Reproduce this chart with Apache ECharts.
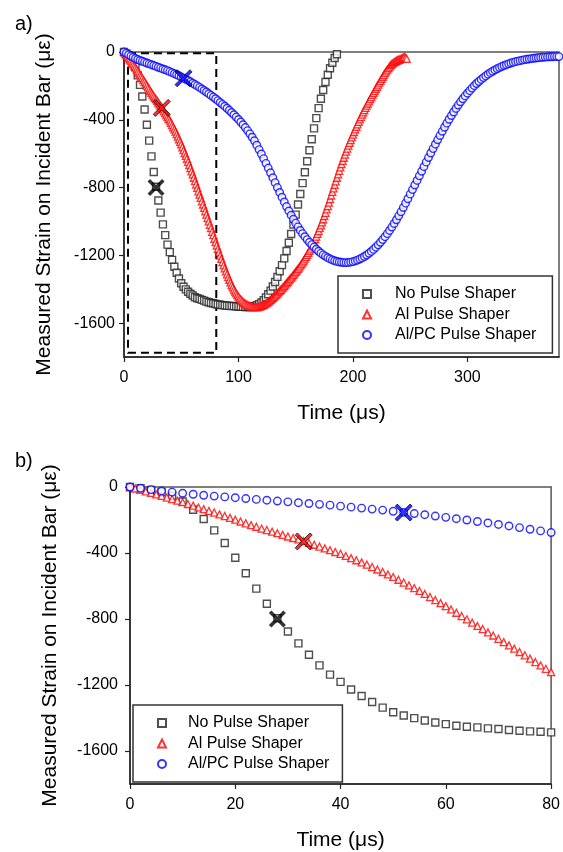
<!DOCTYPE html>
<html>
<head>
<meta charset="utf-8">
<script src="https://cdn.jsdelivr.net/npm/echarts@6/dist/echarts.min.js"></script>
<style>
html,body{margin:0;padding:0;background:#fff;}
#c{width:563px;height:852px;}
</style>
</head>
<body>
<div id="c"></div>
<script>
// ---- data (strain in microstrain, sampled at fixed time steps in µs) ----
const seriesNames = ['No Pulse Shaper', 'Al Pulse Shaper', 'Al/PC Pulse Shaper'];

const blackStep = 2; // µs
const blackValues = [
  0, -8, -18, -32, -54, -88, -138, -194, -263, -339,
  -429, -523, -616, -708, -795, -876, -948, -1017, -1081, -1137,
  -1181, -1227, -1267, -1303, -1337, -1365, -1385, -1401, -1415, -1427,
  -1437, -1447, -1453, -1457, -1463, -1467, -1473, -1477, -1481, -1483,
  -1487, -1490, -1492, -1494, -1496, -1497, -1498, -1499, -1500, -1501,
  -1502, -1503, -1504, -1505, -1505, -1505, -1503, -1500, -1495, -1488,
  -1478, -1465, -1449, -1430, -1408, -1384, -1357, -1327, -1294, -1258,
  -1218, -1174, -1126, -1074, -1018, -960, -900, -838, -774, -710,
  -645, -580, -515, -451, -390, -331, -276, -224, -177, -134,
  -96, -63, -35, -13
];

const redStep = 1; // µs
const redValues = [
  0, -9, -18, -27, -36, -45, -54, -64, -73, -83, -92, -103, -113, -124, -134, -145, -155, -166, -176, -187, -198,
  -209, -220, -231, -241, -252, -261, -271, -280, -290, -300, -309, -318, -328, -339, -350, -361, -372, -383, -394, -405,
  -418, -431, -444, -457, -470, -485, -500, -515, -530, -545, -562, -579, -596, -613, -630, -648, -667, -685, -704, -722,
  -742, -762, -782, -802, -822, -842, -861, -881, -900, -920, -940, -960, -980, -1000, -1020, -1040, -1061, -1081, -1102, -1122,
  -1142, -1162, -1182, -1202, -1221, -1240, -1259, -1277, -1295, -1312, -1329, -1345, -1360, -1375, -1389, -1402, -1414, -1425, -1435, -1444,
  -1453, -1461, -1468, -1475, -1481, -1486, -1490, -1494, -1497, -1500, -1502, -1504, -1505, -1506, -1506, -1506, -1505, -1503, -1501, -1498,
  -1495, -1492, -1488, -1484, -1479, -1474, -1469, -1463, -1457, -1451, -1445, -1438, -1431, -1424, -1417, -1410, -1403, -1395, -1388, -1380,
  -1372, -1364, -1356, -1348, -1340, -1332, -1324, -1315, -1307, -1298, -1289, -1280, -1271, -1261, -1251, -1241, -1231, -1220, -1209, -1197,
  -1185, -1173, -1160, -1147, -1133, -1119, -1104, -1089, -1073, -1057, -1040, -1023, -1005, -987, -968, -949, -929, -909, -889, -868,
  -847, -826, -805, -784, -763, -742, -722, -701, -681, -662, -643, -624, -606, -588, -570, -553, -536, -520, -504, -488,
  -472, -457, -442, -427, -412, -398, -384, -370, -356, -343, -330, -317, -304, -291, -278, -266, -253, -241, -229, -217,
  -205, -193, -181, -170, -158, -147, -136, -125, -114, -104, -95, -86, -78, -71, -65, -60, -56, -52, -49, -46,
  -43, -40, -36, -32, -30, -34, -40
];

const blueStep = 2; // µs
const blueValues = [
  0, -8, -16, -24, -31, -38, -44, -50, -55, -60,
  -65, -70, -75, -80, -85, -90, -95, -100, -105, -110,
  -116, -122, -128, -134, -140, -147, -154, -161, -168, -176,
  -184, -192, -200, -209, -218, -227, -236, -246, -256, -266,
  -276, -287, -298, -309, -320, -332, -344, -357, -370, -384,
  -398, -413, -429, -446, -464, -483, -503, -524, -550, -576,
  -602, -629, -657, -685, -713, -742, -771, -800, -829, -857,
  -885, -912, -938, -963, -987, -1010, -1032, -1053, -1072, -1090,
  -1107, -1123, -1137, -1151, -1164, -1176, -1187, -1197, -1206, -1214,
  -1221, -1227, -1232, -1236, -1239, -1241, -1243, -1243, -1242, -1240,
  -1237, -1233, -1228, -1222, -1215, -1207, -1198, -1188, -1177, -1165,
  -1152, -1138, -1123, -1107, -1090, -1072, -1053, -1033, -1012, -990,
  -967, -943, -918, -892, -866, -839, -812, -785, -758, -731,
  -704, -677, -650, -623, -596, -570, -544, -518, -493, -468,
  -444, -420, -397, -375, -354, -333, -313, -294, -276, -259,
  -243, -228, -213, -199, -186, -174, -162, -151, -141, -131,
  -122, -114, -106, -99, -92, -86, -80, -75, -70, -65,
  -61, -57, -54, -51, -48, -45, -43, -41, -39, -37,
  -35, -34, -32, -31, -30, -29, -28, -28, -27, -27,
  -27
];

// highlighted points (X markers)
const blackMark = [[28, -800]];
const redMark = [[33, -330]];
const blueMark = [[52, -155]];

// dashed zoom window drawn on panel a)
const zoomBox = [[3.5, -8], [80.6, -1775]];

// axis ticks
const yTicks = [0, -400, -800, -1200, -1600];
const xTicksA = [0, 100, 200, 300];
const xTicksB = [0, 20, 40, 60, 80];

// ---- chart ----
const FONT = 'Liberation Sans, Arial, sans-serif';
const toPairs = (vals, step) => vals.map((v, i) => [i * step, v]);
const blackData = toPairs(blackValues, blackStep);
const redData = toPairs(redValues, redStep);
const blueData = toPairs(blueValues, blueStep);

const xPath = 'path://M3,0 L10,7 L17,0 L20,3 L13,10 L20,17 L17,20 L10,13 L3,20 L0,17 L7,10 L0,3 Z';
const xPathThin = 'path://M2.5,0 L10,7.5 L17.5,0 L20,2.5 L12.5,10 L20,17.5 L17.5,20 L10,12.5 L2.5,20 L0,17.5 L7.5,10 L0,2.5 Z';
const plain = v => String(v);

function yAxisCfg(gridIndex, gap, margin) {
  return {
    gridIndex, type: 'value', min: -1800, max: 0,
    name: 'Measured Strain on Incident Bar (με)',
    nameLocation: 'middle', nameGap: gap,
    nameTextStyle: { fontSize: 21, color: '#000', fontFamily: FONT },
    axisLine: { show: true, onZero: false, lineStyle: { color: '#222', width: 1.5 } },
    axisTick: { show: true, length: 5, customValues: yTicks, lineStyle: { color: '#222', width: 1.2 } },
    axisLabel: { customValues: yTicks, formatter: plain, fontSize: 16, color: '#000', fontFamily: FONT, margin: margin },
    splitLine: { show: false }
  };
}
function xAxisCfg(gridIndex, max, ticks) {
  return {
    gridIndex, type: 'value', min: 0, max: max,
    name: 'Time (μs)', nameLocation: 'middle', nameGap: 46,
    nameTextStyle: { fontSize: 21, color: '#000', fontFamily: FONT },
    axisLine: { show: true, onZero: false, lineStyle: { color: '#222', width: 1.5 } },
    axisTick: { show: true, length: 5, customValues: ticks, lineStyle: { color: '#222', width: 1.2 } },
    axisLabel: { customValues: ticks, formatter: plain, fontSize: 16, color: '#000', fontFamily: FONT, margin: 13 },
    splitLine: { show: false }
  };
}

function dataSeries(idx) {
  const common = { xAxisIndex: idx, yAxisIndex: idx, type: 'scatter', animation: false, clip: true, emphasis: { disabled: true } };
  return [
    Object.assign({}, common, {
      name: seriesNames[0], data: blackData, symbol: 'rect', symbolSize: 7, z: 2,
      itemStyle: { color: '#fff', borderColor: '#222', borderWidth: 1.4 }
    }),
    Object.assign({}, common, {
      name: seriesNames[1], data: redData, symbol: 'triangle', symbolSize: 7, z: 3,
      itemStyle: { color: '#fff', borderColor: '#ff0000', borderWidth: 1.3 }
    }),
    Object.assign({}, common, {
      name: seriesNames[2], data: blueData, symbol: 'circle', symbolSize: 7.5, z: 4,
      itemStyle: { color: '#fff', borderColor: '#0000ff', borderWidth: 1.4 }
    }),
    Object.assign({}, common, {
      name: 'markBlack', data: blackMark, symbol: xPath, symbolSize: 17, z: 10,
      itemStyle: { color: '#000' }
    }),
    Object.assign({}, common, {
      name: 'markRed', data: redMark, symbol: xPathThin, symbolSize: 17, z: 10,
      itemStyle: { color: '#ff0000', borderColor: '#000', borderWidth: 0.9 }
    }),
    Object.assign({}, common, {
      name: 'markBlue', data: blueMark, symbol: xPathThin, symbolSize: 17, z: 10,
      itemStyle: { color: '#0000ff', borderColor: '#000', borderWidth: 0.9 }
    })
  ];
}

const sA = dataSeries(0);
sA[0].markArea = {
  silent: true,
  itemStyle: { color: 'rgba(0,0,0,0)', borderColor: '#000', borderWidth: 2, borderType: [8, 5] },
  data: [[{ coord: zoomBox[0] }, { coord: zoomBox[1] }]]
};
const sB = dataSeries(1);

function legendCfg(left, top, textShift, padRight) {
  return {
    show: true, orient: 'vertical', left: left, top: top,
    data: seriesNames, selectedMode: false,
    itemWidth: 8, itemHeight: 8, itemGap: 4.5,
    padding: [10, padRight, 10, 24],
    borderColor: '#333', borderWidth: 1.5, backgroundColor: '#fff',
    textStyle: { fontSize: 16, color: '#000', fontFamily: FONT, padding: [0, 0, 0, textShift] }
  };
}

const option = {
  backgroundColor: '#fff',
  animation: false,
  textStyle: { fontFamily: FONT },
  title: [
    { text: 'a)', left: 10, top: 9, textStyle: { fontSize: 20, fontWeight: 'normal', color: '#000', fontFamily: FONT } },
    { text: 'b)', left: 10, top: 446, textStyle: { fontSize: 20, fontWeight: 'normal', color: '#000', fontFamily: FONT } }
  ],
  grid: [
    { left: 124, top: 52, width: 435, height: 305, show: true, borderColor: '#555', borderWidth: 1.5, backgroundColor: 'rgba(0,0,0,0)' },
    { left: 130, top: 487, width: 427, height: 298, show: true, borderColor: '#555', borderWidth: 1.5, backgroundColor: 'rgba(0,0,0,0)' }
  ],
  xAxis: [xAxisCfg(0, 380, xTicksA), xAxisCfg(1, 80, xTicksB)],
  yAxis: [yAxisCfg(0, 69, 9), yAxisCfg(1, 69, 12)],
  legend: [legendCfg(338, 276, 19, 16), legendCfg(133, 705, 17, 13)],
  series: sA.concat(sB)
};

const chart = echarts.init(document.getElementById('c'), null, { renderer: 'canvas' });
chart.setOption(option);
</script>
</body>
</html>
